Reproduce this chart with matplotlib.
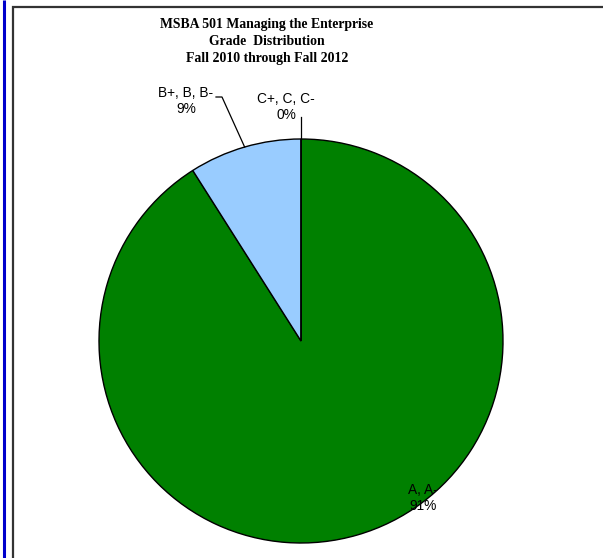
import numpy as np
import matplotlib.pyplot as plt
from matplotlib.patches import Rectangle

# grade groups and their share of students
grades = ["A, A-", "B+, B, B-", "C+, C, C-"]
shares = [91, 9, 0]
colors = ["#008000", "#99CCFF", "#FFFFFF"]

W, H = 603, 558
fig = plt.figure(figsize=(W / 100, H / 100), dpi=100)
ax = fig.add_axes([0, 0, 1, 1])
ax.set_xlim(0, W)
ax.set_ylim(0, H)
ax.set_aspect("equal")
ax.axis("off")

# page margin line and chart frame
ax.plot([4, 4], [0, H], color="#0000CC", lw=2.2, solid_capstyle="butt")
ax.add_patch(Rectangle((12.5, -20), W + 20, H - 6.5 + 20, fill=False,
                       edgecolor="#333333", lw=1.6))

cx, cy, r = 301, H - 341, 202
wedges, _ = ax.pie(shares, colors=colors, startangle=90, counterclock=False,
                   center=(cx, cy), radius=r, frame=True,
                   wedgeprops=dict(edgecolor="black", linewidth=1.0))
ax.set_xlim(0, W)
ax.set_ylim(0, H)
ax.axis("off")

ax.text(267, H - 41.5, "MSBA 501 Managing the Enterprise\nGrade  Distribution\nFall 2010 through Fall 2012",
        ha="center", va="center", fontsize=9.9, fontweight="bold",
        family="Liberation Serif", linespacing=1.38)

lab_font = dict(fontsize=9.9, family="Liberation Sans", ha="center", va="center",
                linespacing=1.1)


def edge_point(w):
    ang = np.deg2rad((w.theta1 + w.theta2) / 2)
    return cx + r * np.cos(ang), cy + r * np.sin(ang)


# A, A- label sits over the rim of its wedge
ax.text(423, H - 498, f"{grades[0]}\n{shares[0]}%", **lab_font)

# B+, B, B- label with leader line
bx, by = edge_point(wedges[1])
ax.plot([216, 222, bx], [H - 97, H - 97, by], color="black", lw=0.9)
ax.text(186, H - 101, f"{grades[1]}\n{shares[1]}%", **lab_font)

# C+, C, C- label with leader line
qx, qy = edge_point(wedges[2])
ax.plot([qx, qx], [H - 117, qy], color="black", lw=0.9)
ax.text(286, H - 107, f"{grades[2]}\n{shares[2]}%", **lab_font)

fig.savefig("out.png", dpi=100)
